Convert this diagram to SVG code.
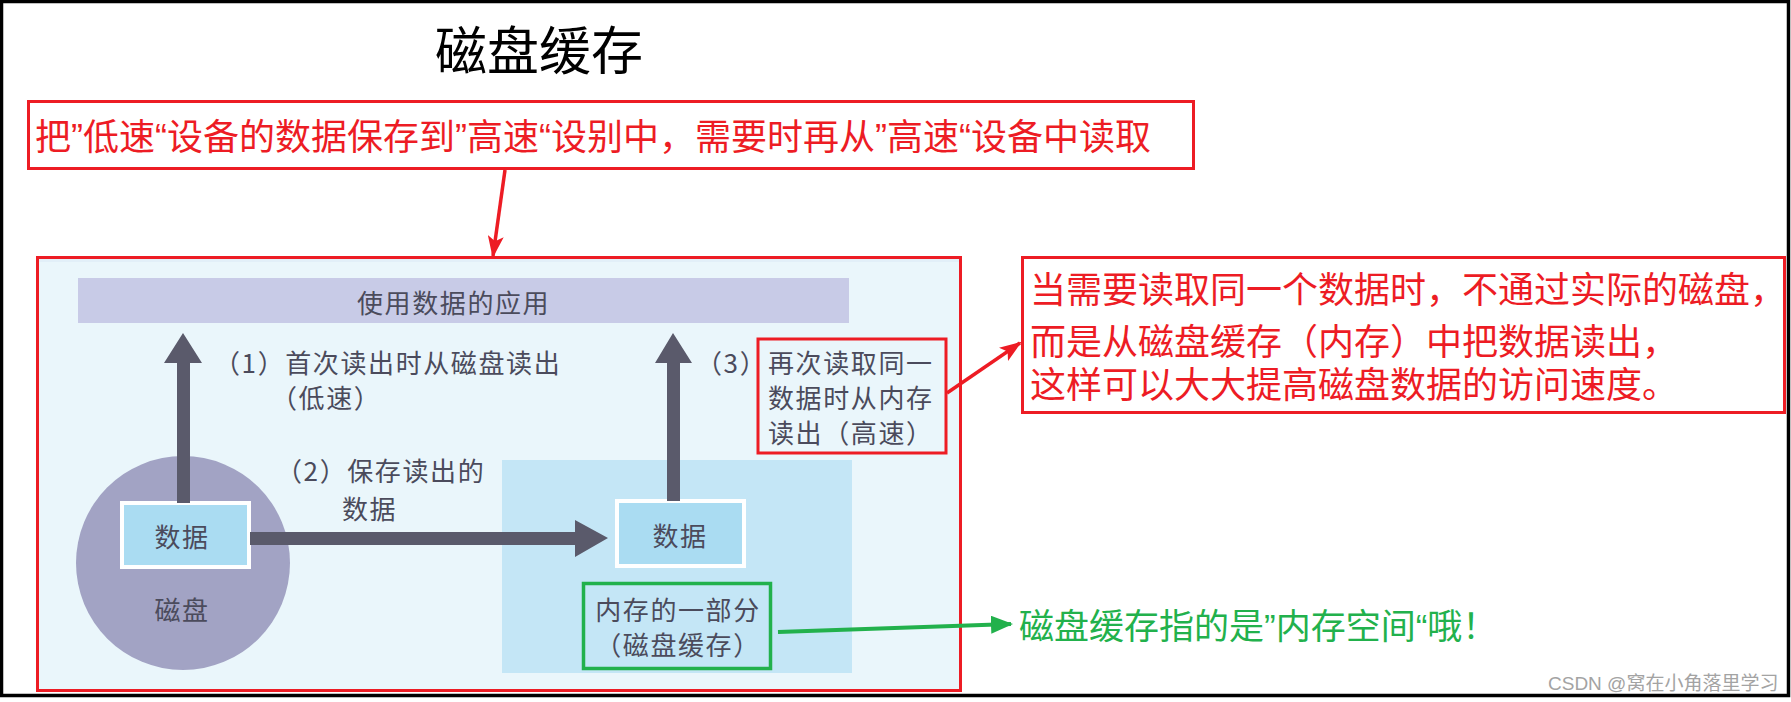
<svg xmlns="http://www.w3.org/2000/svg" width="1791" height="702" viewBox="0 0 1791 702">
  <style>
    .cjk { font-family: "Liberation Sans", "Noto Sans CJK SC", sans-serif; }
    .red { fill: #ed1c24; }
    .green { fill: #22b14c; }
    .pic { font-family: "Noto Sans CJK SC", sans-serif; font-size: 26px; fill: #4b4b5c; letter-spacing: 1.6px; }
    .box-red { fill: none; stroke: #ed1c24; stroke-width: 3; }
    .box-green { fill: none; stroke: #22b14c; stroke-width: 3.5; }
    .databox { fill: #aadcf2; stroke: #ffffff; stroke-width: 4; }
    .bigarrow { fill: #5a5a6b; }
  </style>
  <defs>
    <marker id="ahRed" markerUnits="userSpaceOnUse" markerWidth="22" markerHeight="16" viewBox="0 0 22 16" refX="20" refY="8" orient="auto">
      <path d="M0,0 L22,8 L0,16 L5,8 z" fill="#ed1c24"/>
    </marker>
    <marker id="ahGreen" markerUnits="userSpaceOnUse" markerWidth="22" markerHeight="18" viewBox="0 0 22 18" refX="20" refY="9" orient="auto">
      <path d="M0,0 L22,9 L0,18 z" fill="#22b14c"/>
    </marker>
  </defs>

  <rect x="0" y="0" width="1791" height="702" fill="#ffffff"/>
  <rect id="frame" x="1.5" y="1.5" width="1787" height="694" fill="none" stroke="#000000" stroke-width="3.5"/>

  <g id="title">
    <text x="435" y="70" font-family="Noto Sans CJK SC, sans-serif" font-size="52" fill="#000000">磁盘缓存</text>
  </g>

  <g id="note-top">
    <rect x="28.5" y="101.5" width="1165" height="67" class="box-red"/>
    <text x="35" y="150" class="cjk red" font-size="36">把”低速“设备的数据保存到”高速“设别中，需要时再从”高速“设备中读取</text>
  </g>

  <g id="picture">
    <rect x="38" y="258" width="922" height="432" fill="#eaf6fb"/>
    <rect x="39" y="258" width="921" height="4" fill="#e2eff8"/>
  </g>

  <g id="app-bar">
    <rect x="78" y="278" width="771" height="45" fill="#c8cbe7"/>
    <text x="357" y="313" class="pic" letter-spacing="6">使用数据的应用</text>
  </g>

  <g id="memory-region">
    <rect x="502" y="460" width="350" height="213" fill="#c4e6f6"/>
  </g>

  <g id="disk">
    <circle cx="183" cy="563" r="107" fill="#a2a3c4"/>
    <text x="182" y="620" class="pic" text-anchor="middle" letter-spacing="1">磁盘</text>
  </g>

  <g id="disk-data">
    <rect x="122" y="503" width="127" height="64" class="databox"/>
    <text x="182" y="547" class="pic" text-anchor="middle" letter-spacing="2">数据</text>
  </g>

  <g id="cache-data">
    <rect x="617" y="501" width="127" height="65" class="databox"/>
    <text x="680" y="546" class="pic" text-anchor="middle" letter-spacing="2">数据</text>
  </g>

  <g id="label-1">
    <text x="214" y="373" class="pic">（1）首次读出时从磁盘读出</text>
    <text x="271" y="408" class="pic">（低速）</text>
  </g>

  <g id="label-2">
    <text x="276" y="481" class="pic">（2）保存读出的</text>
    <text x="342" y="519" class="pic">数据</text>
  </g>

  <g id="label-3">
    <text x="696" y="373" class="pic">（3）</text>
    <rect x="758" y="339" width="188" height="114" class="box-red"/>
    <text x="768" y="373" class="pic">再次读取同一</text>
    <text x="768" y="408" class="pic">数据时从内存</text>
    <text x="768" y="443" class="pic">读出（高速）</text>
  </g>

  <g id="cache-label">
    <rect x="583.5" y="583.5" width="187" height="85" class="box-green"/>
    <text x="678" y="620" class="pic" text-anchor="middle" letter-spacing="1.5">内存的一部分</text>
    <text x="678" y="655" class="pic" text-anchor="middle" letter-spacing="1.5">（磁盘缓存）</text>
  </g>

  <g id="note-right">
    <rect x="1022.5" y="257.5" width="762" height="155" class="box-red"/>
    <text class="cjk red" font-size="36">
      <tspan x="1030" y="303">当需要读取同一个数据时，不通过实际的磁盘，</tspan>
      <tspan x="1030" y="355">而是从磁盘缓存（内存）中把数据读出，</tspan>
      <tspan x="1030" y="398">这样可以大大提高磁盘数据的访问速度。</tspan>
    </text>
  </g>

  <g id="note-green">
    <text x="1019" y="639" class="cjk green" font-size="35">磁盘缓存指的是”内存空间“哦！</text>
  </g>

  <g id="picture-border">
    <rect x="37.5" y="257.5" width="923" height="433" class="box-red"/>
  </g>

  <g id="connectors">
    <polygon class="bigarrow" points="177,503 177,363 164,363 183,333 202,363 190,363 190,503"/>
    <polygon class="bigarrow" points="667,501 667,363 655,363 673,333 692,363 680,363 680,501"/>
    <polygon class="bigarrow" points="250,532 575,532 575,520 608,538 575,557 575,545 250,545"/>
    <line x1="505" y1="170" x2="493" y2="256" stroke="#ed1c24" stroke-width="3.5" marker-end="url(#ahRed)"/>
    <line x1="947" y1="393" x2="1020" y2="343" stroke="#ed1c24" stroke-width="3.5" marker-end="url(#ahRed)"/>
    <line x1="778" y1="632" x2="1011" y2="624" stroke="#22b14c" stroke-width="4" marker-end="url(#ahGreen)"/>
  </g>

  <g id="watermark">
    <text x="1548" y="690" class="cjk" font-size="19" fill="#a3a3a3">CSDN @窝在小角落里学习</text>
  </g>
</svg>
